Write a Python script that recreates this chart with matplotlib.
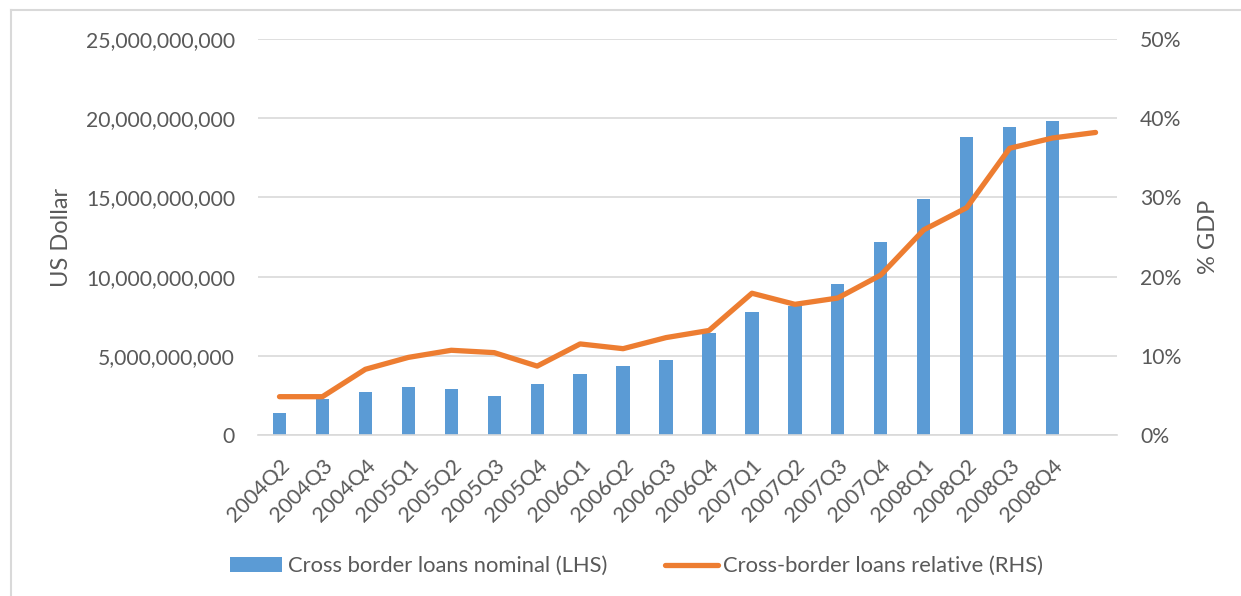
import matplotlib.pyplot as plt
from matplotlib.lines import Line2D
from matplotlib.patches import Patch
from matplotlib.ticker import FuncFormatter
import numpy as np

quarters = ["2004Q2", "2004Q3", "2004Q4", "2005Q1", "2005Q2", "2005Q3", "2005Q4",
            "2006Q1", "2006Q2", "2006Q3", "2006Q4", "2007Q1", "2007Q2", "2007Q3",
            "2007Q4", "2008Q1", "2008Q2", "2008Q3", "2008Q4", ""]

# nominal cross border loans, US dollar (no figure for the last period)
loans_nominal = [1.37e9, 2.29e9, 2.73e9, 3.01e9, 2.92e9, 2.44e9, 3.20e9,
                 3.85e9, 4.38e9, 4.71e9, 6.42e9, 7.74e9, 8.15e9, 9.53e9,
                 12.2e9, 14.92e9, 18.8e9, 19.44e9, 19.8e9, np.nan]

# cross border loans as share of GDP
loans_relative = [0.0484, 0.0484, 0.083, 0.098, 0.107, 0.104, 0.087,
                  0.115, 0.109, 0.123, 0.132, 0.179, 0.165, 0.173,
                  0.202, 0.259, 0.287, 0.362, 0.375, 0.382]

blue = "#5B9BD5"
orange = "#ED7D31"
grey = "#595959"
gridcol = "#D9D9D9"

plt.rcParams['font.family'] = ['Lato', 'DejaVu Sans']

fig = plt.figure(figsize=(12.41, 5.96), dpi=100)
ax = fig.add_axes([0.2079, 0.2701, 0.6922, 0.6645])
ax2 = ax.twinx()

x = np.arange(len(quarters))
ax.bar(x, loans_nominal, width=0.31, color=blue, zorder=2)
ax2.plot(x, loans_relative, color=orange, lw=3.8, solid_capstyle='round',
         solid_joinstyle='round', zorder=3)

ax.set_xlim(-0.5, len(quarters) - 0.5)
ax.set_ylim(0, 25e9)
ax.set_yticks(np.arange(0, 25e9 + 1, 5e9))
ax.yaxis.set_major_formatter(FuncFormatter(lambda v, p: f"{v:,.0f}"))
ax2.set_ylim(0, 0.5)
ax2.set_yticks(np.arange(0, 0.51, 0.1))
ax2.yaxis.set_major_formatter(FuncFormatter(lambda v, p: f"{v*100:.0f}%"))

ax.grid(axis='y', color=gridcol, lw=1.2, zorder=0)
ax.set_axisbelow(True)
for a in (ax, ax2):
    for s in a.spines.values():
        s.set_visible(False)
ax.spines['bottom'].set_visible(True)
ax.spines['bottom'].set_color(gridcol)
ax.spines['bottom'].set_linewidth(1.2)

ax.set_xticks(x)
ax.set_xticklabels(quarters, rotation=45, ha='right', rotation_mode='anchor')
ax.tick_params(axis='x', length=0, pad=15, labelsize=15.5, labelcolor=grey)
ax.tick_params(axis='y', length=0, pad=16.5, labelsize=15.2, labelcolor=grey)
ax2.tick_params(axis='y', length=0, pad=16.5, labelsize=15.2, labelcolor=grey)

ax.set_ylabel("US Dollar", fontsize=17, color=grey, labelpad=10)
ax2.set_ylabel("% GDP", fontsize=17, color=grey, labelpad=12)

handles = [Patch(facecolor=blue, edgecolor='none'),
           Line2D([0], [0], color=orange, lw=3.8, solid_capstyle='round')]
fig.legend(handles, ["Cross border loans nominal (LHS)", "Cross-border loans relative (RHS)"],
           loc='center', bbox_to_anchor=(0.513, 0.05), ncol=2, frameon=False,
           fontsize=15.8, labelcolor=grey, handlelength=2.4, handletextpad=0.27,
           columnspacing=2.6)

# thin chart frame on the left and top
fig.add_artist(Line2D([11 / 1241, 11 / 1241], [0, 1 - 10 / 596], color=gridcol, lw=1.5))
fig.add_artist(Line2D([11 / 1241, 1], [1 - 10 / 596, 1 - 10 / 596], color=gridcol, lw=1.5))

fig.savefig("out.png", dpi=100)
